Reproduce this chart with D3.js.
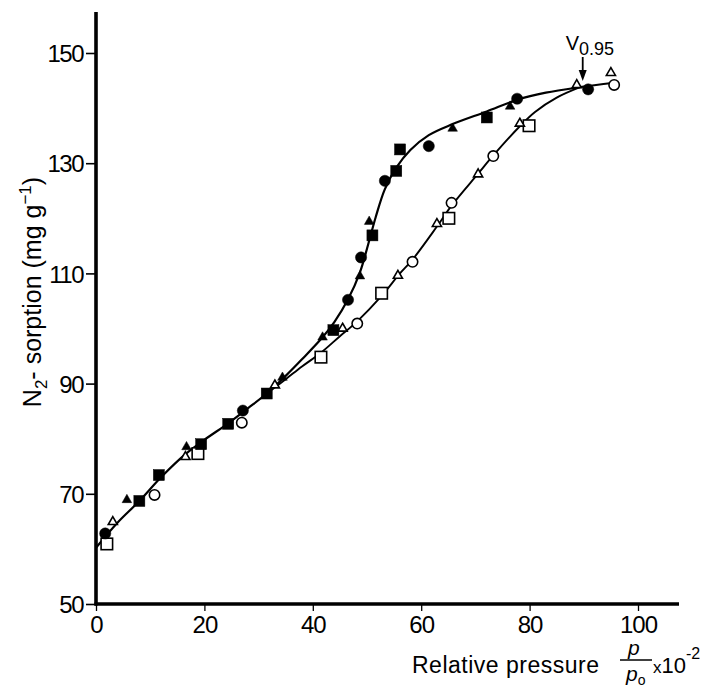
<!DOCTYPE html>
<html>
<head>
<meta charset="utf-8">
<script src="https://cdn.jsdelivr.net/npm/d3@7"></script>
<style>
  body { margin: 0; background: #fff; }
  text { font-family: "Liberation Sans", Arial, sans-serif; fill: #000; }
</style>
</head>
<body>
<svg id="chart" width="711" height="688"></svg>
<script>
// tick values
const xTicks = [0, 20, 40, 60, 80, 100];
const yTicks = [50, 70, 90, 110, 130, 150];

// data points [relative pressure, sorption]
const filledCircle = [[1.7,62.8],[27.1,85.1],[46.5,105.2],[48.9,112.9],[53.3,126.8],[61.4,133.1],[77.7,141.7],[90.8,143.4]];
const filledSquare = [[8.0,68.7],[11.6,73.4],[19.4,79.0],[24.4,82.7],[31.5,88.2],[43.8,99.7],[51.0,116.9],[55.4,128.6],[56.1,132.5],[72.1,138.3]];
const filledTriangle = [[5.7,68.9],[16.7,78.5],[34.4,91.1],[41.8,98.4],[48.7,109.5],[50.4,119.4],[65.8,136.3],[76.4,140.3]];
const openCircle = [[10.8,69.8],[26.9,82.9],[48.2,100.9],[58.4,112.1],[65.6,122.8],[73.3,131.3],[95.6,144.2]];
const openSquare = [[2.0,60.9],[18.8,77.3],[41.5,94.8],[52.7,106.4],[65.1,120.0],[79.9,136.8]];
const openTriangle = [[3.1,64.9],[16.5,76.7],[33.0,89.7],[45.5,100.0],[55.7,109.6],[62.9,119.0],[70.5,128.0],[78.2,137.2],[88.7,144.2],[95.0,146.4]];

// fitted curves (desorption = upper, adsorption = lower branch)
const desorptionCurve = [[0,60.2],[4,64.8],[8,68.7],[12,73],[16.5,77.2],[20,79.8],[24.4,82.8],[28,85.5],[31.5,88.2],[35,91.4],[38,94.4],[41.8,98.4],[44,101.2],[46.5,105.3],[48.7,110.2],[50.2,115.2],[51.6,120.2],[53.3,125.3],[55.4,129.2],[58,132.4],[61.4,135.1],[65.8,137.1],[72.1,139.4],[77.7,141.5],[83,142.8],[89.3,143.8],[95.6,144.6]];
const adsorptionCurve = [[31.5,88.2],[35,90.8],[38,93.1],[41.5,95.6],[45,98.6],[48.2,101.3],[52.7,105.9],[56,109.9],[58.4,112.5],[62.9,118.5],[65.6,122.3],[70.5,128.1],[73.3,131.4],[78.2,136.7],[81,139.3],[85,141.9],[89.3,143.8]];

const v095 = 89.8;

const svg = d3.select("#chart");

const x = d3.scaleLinear().domain([0, 100]).range([96, 638]);
const y = d3.scaleLinear().domain([50, 150]).range([604, 53]);

// axes
const yAxis = svg.append("g")
  .attr("transform", "translate(96,0)")
  .call(d3.axisLeft(y).tickValues(yTicks).tickSize(10).tickPadding(3).tickSizeOuter(0));
yAxis.select(".domain").remove();
yAxis.selectAll("line").attr("stroke", "#000").attr("stroke-width", 1.6);
yAxis.selectAll("text")
  .style("font-size", "24px").style("letter-spacing", "-1.5px")
  .attr("font-family", null).attr("dy", "0.36em");

const xAxis = svg.append("g")
  .attr("transform", "translate(0,604)")
  .call(d3.axisBottom(x).tickValues(xTicks).tickSize(7).tickPadding(5).tickSizeOuter(0));
xAxis.select(".domain").remove();
xAxis.selectAll("line").attr("stroke", "#000").attr("stroke-width", 1.3);
xAxis.selectAll("text")
  .style("font-size", "24px").style("letter-spacing", "-1px")
  .attr("font-family", null);

// thick axis lines
svg.append("line").attr("x1", 96).attr("x2", 96).attr("y1", 12).attr("y2", 605.5)
  .attr("stroke", "#000").attr("stroke-width", 3.6);
svg.append("line").attr("x1", 94.5).attr("x2", 679).attr("y1", 604).attr("y2", 604)
  .attr("stroke", "#000").attr("stroke-width", 3.6);

// curves
const line = d3.line().x(d => x(d[0])).y(d => y(d[1])).curve(d3.curveCatmullRom.alpha(0.5));
svg.append("path").datum(desorptionCurve).attr("d", line)
  .attr("fill", "none").attr("stroke", "#000").attr("stroke-width", 2.2);
svg.append("path").datum(adsorptionCurve).attr("d", line)
  .attr("fill", "none").attr("stroke", "#000").attr("stroke-width", 1.9);

// markers
const tri = d3.symbol().type(d3.symbolTriangle);
function circles(data, filled) {
  svg.append("g").selectAll("circle").data(data).join("circle")
    .attr("cx", d => x(d[0])).attr("cy", d => y(d[1]))
    .attr("r", filled ? 5.6 : 5.2)
    .attr("fill", filled ? "#000" : "#fff")
    .attr("stroke", "#000").attr("stroke-width", filled ? 0.5 : 1.6);
}
function squares(data, filled) {
  const s = filled ? 11 : 11.5;
  svg.append("g").selectAll("rect").data(data).join("rect")
    .attr("x", d => x(d[0]) - s / 2).attr("y", d => y(d[1]) - s / 2)
    .attr("width", s).attr("height", s)
    .attr("fill", filled ? "#000" : "#fff")
    .attr("stroke", "#000").attr("stroke-width", filled ? 0.5 : 1.6);
}
function triangles(data, filled) {
  svg.append("g").selectAll("path").data(data).join("path")
    .attr("transform", d => "translate(" + x(d[0]) + "," + y(d[1]) + ")")
    .attr("d", tri.size(filled ? 40 : 36)())
    .attr("fill", filled ? "#000" : "#fff")
    .attr("stroke", "#000").attr("stroke-width", filled ? 0.5 : 1.6);
}
squares(openSquare, false);
circles(openCircle, false);
triangles(openTriangle, false);
squares(filledSquare, true);
circles(filledCircle, true);
triangles(filledTriangle, true);

// V0.95 annotation with arrow
const ax = x(v095);
svg.append("line").attr("x1", ax).attr("x2", ax).attr("y1", 57).attr("y2", 72)
  .attr("stroke", "#000").attr("stroke-width", 1.8);
svg.append("path")
  .attr("d", "M" + (ax - 4) + ",70 L" + (ax + 4) + ",70 L" + ax + ",81 Z")
  .attr("fill", "#000");
const vt = svg.append("text").attr("x", ax - 17).attr("y", 50).style("font-size", "20px");
vt.append("tspan").text("V");
vt.append("tspan").attr("dy", 5).style("font-size", "18px").text("0.95");

// y label
const yl = svg.append("text")
  .attr("transform", "translate(41,292) rotate(-90)")
  .attr("text-anchor", "middle")
  .style("font-size", "25px");
yl.append("tspan").text("N");
yl.append("tspan").attr("dy", 6).style("font-size", "17px").text("2");
yl.append("tspan").attr("dy", -6).text("- sorption  (mg g");
yl.append("tspan").attr("dy", -10).style("font-size", "17px").text("−1");
yl.append("tspan").attr("dy", 10).text(")");

// x label
svg.append("text").attr("x", 412).attr("y", 673).style("font-size", "23px").style("letter-spacing", "0.5px")
  .text("Relative pressure");
svg.append("text").attr("x", 628).attr("y", 655).style("font-size", "21px").style("font-style", "italic").text("p");
svg.append("line").attr("x1", 620).attr("x2", 652).attr("y1", 660).attr("y2", 660)
  .attr("stroke", "#000").attr("stroke-width", 1.5);
const p0 = svg.append("text").attr("x", 626).attr("y", 681).style("font-size", "21px").style("font-style", "italic");
p0.append("tspan").text("p");
p0.append("tspan").attr("dy", 4).style("font-size", "14px").style("font-style", "normal").text("o");
const x10 = svg.append("text").attr("x", 653).attr("y", 673).style("font-size", "22px");
x10.append("tspan").style("font-size", "17px").text("x");
x10.append("tspan").text("10");
x10.append("tspan").attr("dy", -14).style("font-size", "16px").text("-2");
</script>
</body>
</html>
